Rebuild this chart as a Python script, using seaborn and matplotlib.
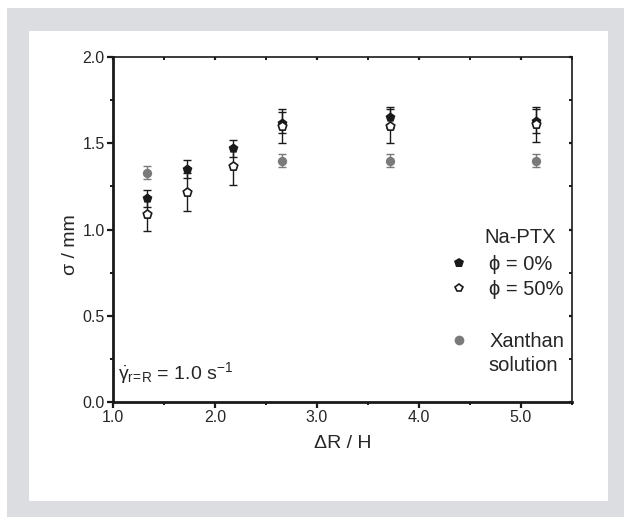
import numpy as np
import pandas as pd
import matplotlib
matplotlib.use("Agg")
import matplotlib.pyplot as plt
import seaborn as sns
from matplotlib.lines import Line2D
from matplotlib.patches import Rectangle
from matplotlib.ticker import MultipleLocator, FormatStrFormatter

# values
dr_h = [1.33, 1.73, 2.18, 2.66, 3.72, 5.15]
sigma_phi0 = [1.18, 1.35, 1.47, 1.62, 1.65, 1.63]
err_phi0 = [0.05, 0.05, 0.05, 0.06, 0.06, 0.07]
sigma_phi50 = [1.09, 1.22, 1.37, 1.60, 1.60, 1.61]
err_phi50 = [0.10, 0.11, 0.11, 0.10, 0.10, 0.10]
dr_xan = [1.33, 2.66, 3.72, 5.15]
sigma_xan = [1.33, 1.40, 1.40, 1.40]
err_xan = [0.04, 0.04, 0.04, 0.04]

GRAY = "#7a7a7a"
BLACK = "#1a1a1a"
TXT = "#262626"

sns.set_theme(style="ticks")
plt.rcParams['font.family'] = ['Liberation Sans', 'DejaVu Sans']
plt.rcParams['mathtext.fontset'] = 'custom'
plt.rcParams['mathtext.rm'] = 'Liberation Sans'
plt.rcParams['mathtext.it'] = 'Liberation Sans'
plt.rcParams['mathtext.bf'] = 'Liberation Sans:bold'

fig = plt.figure(figsize=(6.24, 5.17), dpi=100)
fig.patch.set_facecolor("white")
# grey frame with white panel, as in the source layout
fig.patches.append(Rectangle((7 / 624, 0), 617 / 624, 509 / 517,
                             transform=fig.transFigure, facecolor="#dcdde0",
                             edgecolor="none", zorder=-2))
fig.patches.append(Rectangle((29 / 624, 16 / 517), 579 / 624, 470 / 517,
                             transform=fig.transFigure, facecolor="white",
                             edgecolor="none", zorder=-1))

ax = fig.add_axes([113 / 624, 115 / 517, 459 / 624, 345 / 517])
ax.set_facecolor("none")

df0 = pd.DataFrame({"x": dr_h, "y": sigma_phi0, "e": err_phi0})
df50 = pd.DataFrame({"x": dr_h, "y": sigma_phi50, "e": err_phi50})
dfx = pd.DataFrame({"x": dr_xan, "y": sigma_xan, "e": err_xan})

ax.errorbar(dfx.x, dfx.y, yerr=dfx.e, fmt="none", ecolor=GRAY, elinewidth=1.0,
            capsize=3, capthick=1.0, zorder=2)
ax.errorbar(df0.x, df0.y, yerr=df0.e, fmt="none", ecolor=BLACK, elinewidth=1.0,
            capsize=3, capthick=1.0, zorder=2)
ax.errorbar(df50.x, df50.y, yerr=df50.e, fmt="none", ecolor=BLACK, elinewidth=1.0,
            capsize=3, capthick=1.0, zorder=2)

sns.scatterplot(data=dfx, x="x", y="y", ax=ax, marker="o", s=45, color=GRAY,
                edgecolor=GRAY, linewidth=0, zorder=3)
sns.scatterplot(data=df0, x="x", y="y", ax=ax, marker="p", s=55, color=BLACK,
                edgecolor=BLACK, linewidth=0, zorder=4)
sns.scatterplot(data=df50, x="x", y="y", ax=ax, marker="p", s=42, color="white",
                edgecolor=BLACK, linewidth=1.2, zorder=5)

ax.set_xlim(1.0, 5.5)
ax.set_ylim(0.0, 2.0)
ax.xaxis.set_major_locator(MultipleLocator(1.0))
ax.xaxis.set_minor_locator(MultipleLocator(0.5))
ax.yaxis.set_major_locator(MultipleLocator(0.5))
ax.yaxis.set_minor_locator(MultipleLocator(0.25))
ax.xaxis.set_major_formatter(FormatStrFormatter("%.1f"))
ax.yaxis.set_major_formatter(FormatStrFormatter("%.1f"))

for side in ["left", "bottom"]:
    ax.spines[side].set_linewidth(2.0)
    ax.spines[side].set_color(BLACK)
for side in ["top", "right"]:
    ax.spines[side].set_visible(True)
    ax.spines[side].set_linewidth(1.2)
    ax.spines[side].set_color(BLACK)

ax.tick_params(axis="both", which="major", direction="out", length=4.5, width=1.6,
               color=BLACK, labelsize=11.5, pad=1.5, labelcolor=TXT)
ax.tick_params(axis="both", which="minor", direction="out", length=2.5, width=1.4,
               color=BLACK)
ax.tick_params(top=True, right=True, which="both")
# small inward marks on the top and right frame
for t in ax.xaxis.get_major_ticks() + ax.xaxis.get_minor_ticks():
    t.tick2line.set_marker(3)
    t.tick2line.set_markersize(2)
for t in ax.yaxis.get_major_ticks() + ax.yaxis.get_minor_ticks():
    t.tick2line.set_marker(0)
    t.tick2line.set_markersize(2)

ax.set_xlabel("ΔR / H", fontsize=14, color=TXT, labelpad=7)
ax.set_ylabel("σ / mm", fontsize=14, color=TXT)
ax.yaxis.set_label_coords(-0.074, 0.455)

ax.text(0.01, 0.067, r"$\dot{\gamma}_{r\!=\!R}$ = 1.0 s$^{-1}$", transform=ax.transAxes,
        fontsize=14, color=TXT, va="baseline", ha="left")

# legend block on the right
h0 = Line2D([], [], marker="p", linestyle="none", markersize=7, color=BLACK,
            markeredgewidth=0)
h50 = Line2D([], [], marker="p", linestyle="none", markersize=6, markerfacecolor="white",
             markeredgecolor=BLACK, markeredgewidth=1.2)
hblank = Line2D([], [], linestyle="none")
hx = Line2D([], [], marker="o", linestyle="none", markersize=7, color=GRAY,
            markeredgewidth=0)
leg = ax.legend([h0, h50, hblank, hx], ["ϕ = 0%", "ϕ = 50%", "", "Xanthan"],
                frameon=False, fontsize=14.5, loc="upper left",
                bbox_to_anchor=(0.71, 0.456), handlelength=1.0, handletextpad=1.0,
                labelspacing=0.33, borderpad=0)
for t in leg.get_texts():
    t.set_color(TXT)
ax.text(0.887, 0.478, "Na-PTX", transform=ax.transAxes, fontsize=14.5,
        color=TXT, ha="center", va="center")
ax.text(0.893, 0.105, "solution", transform=ax.transAxes, fontsize=14.5,
        color=TXT, ha="center", va="center")

fig.savefig("out.png", dpi=100)
